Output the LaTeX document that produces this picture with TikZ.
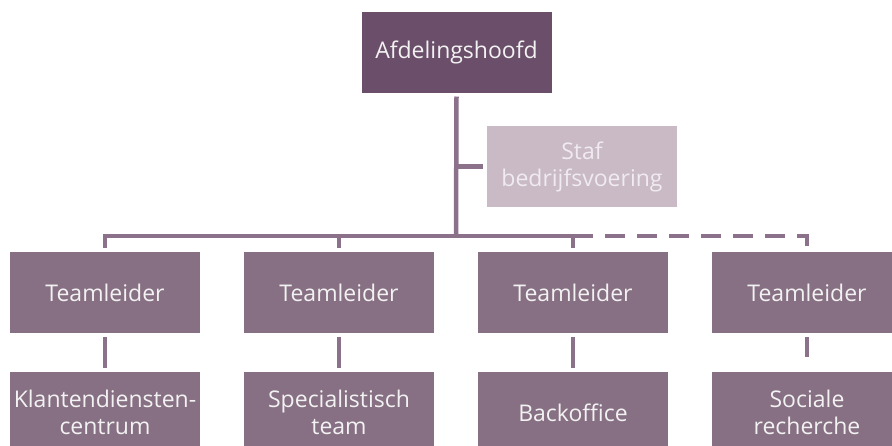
\documentclass[tikz,border=0pt]{standalone}
\usepackage{fontspec}
\setmainfont{Open Sans}
\definecolor{hoofdpaars}{HTML}{6B4F6A}
\definecolor{teampaars}{HTML}{877083}
\definecolor{stafpaars}{HTML}{C9BAC6}
\definecolor{staftekst}{HTML}{F0EBF0}
\definecolor{lijnpaars}{HTML}{8B7189}
\tikzset{
  orgbox/.style={rectangle, minimum width=190, minimum height=81, align=center,
    text=white!95!black, outer sep=4pt, font=\fontsize{23}{27}\selectfont},
  headbox/.style={orgbox, fill=hoofdpaars},
  teambox/.style={orgbox, fill=teampaars},
  stafbox/.style={orgbox, fill=stafpaars, text=staftekst},
  conn/.style={draw=lijnpaars, line width=4.5pt},
  dashconn/.style={conn, dash pattern=on 20pt off 12pt}
}
\begin{document}
\begin{tikzpicture}[x=1pt,y=1pt,yscale=-1,xscale=1]
    \clip (0,0) rectangle (892,445);
    \fill[white] (0,0) rectangle (892,445);

    % Text Node
    \node[headbox] (hoofd) at (456.5,52) {Afdelingshoofd};
    % Text Node
    \node[stafbox] (staf) at (582,166.5) {Staf\\bedrijfsvoering};
    % Text Node
    \node[teambox] (tl1) at (105,292.5) {Teamleider};
    \node[teambox] (tl2) at (339,292.5) {Teamleider};
    \node[teambox] (tl3) at (573,292.5) {Teamleider};
    \node[teambox] (tl4) at (807,292.5) {Teamleider};
    % Text Node
    \node[teambox] (kdc) at (105,412.5) {Klantendiensten-\\centrum};
    \node[teambox] (spec) at (339,412.5) {Specialistisch\\team};
    \node[teambox] (back) at (573,412.5) {Backoffice};
    \node[teambox] (soc) at (807,412.5) {Sociale\\recherche};
    % knik in de lijn
    \coordinate (knik) at (456,236);

    % Connection
    \draw[conn] (hoofd.south) -- (knik);
    % Connection
    \draw[conn] (staf.west) -- (staf.west -| knik);
    % Connection
    \draw[conn] (tl1.north) -- (tl1.north |- knik) -- (tl3.north |- knik) -- (tl3.north);
    \draw[conn] (tl2.north |- knik) -- (tl2.north);
    % Connection
    \draw[dashconn] (tl3.north |- knik) -- (tl4.north |- knik) -- (tl4.north);
    % Connection
    \draw[conn] (tl1) -- (kdc);
    \draw[conn] (tl2) -- (spec);
    \draw[conn] (tl3) -- (back);
    \draw[dashconn] (tl4) -- (soc);

\end{tikzpicture}
\end{document}
